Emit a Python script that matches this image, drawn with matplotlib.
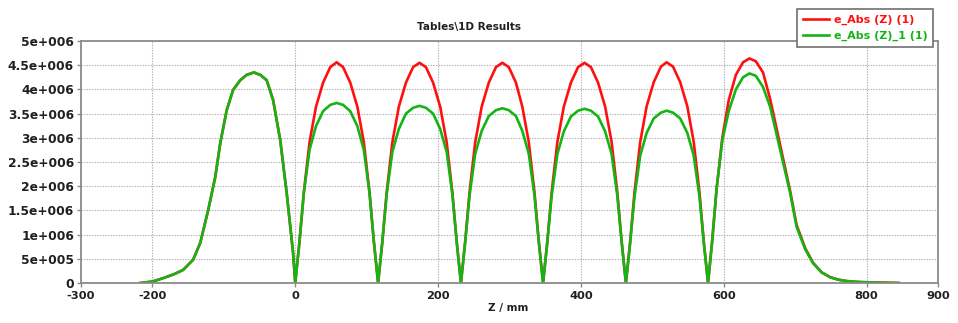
import matplotlib
matplotlib.use("Agg")
import matplotlib.pyplot as plt

# ---------------- data ----------------
z_left = [-217, -200, -185, -170, -157, -143, -133, -122, -112, -105, -96, -87,
          -77, -68, -58, -49, -40, -31, -21, -12, -3]
left_vals = [0.0, 0.03, 0.10, 0.18, 0.27, 0.48, 0.83, 1.50, 2.19, 2.89, 3.57, 3.99,
             4.19, 4.30, 4.35, 4.30, 4.19, 3.78, 2.95, 1.86, 0.62]

z_mid = [0, 6, 12, 20, 29, 39, 49, 58, 67, 77, 87, 96, 104, 110,
         116, 122, 128, 136, 145, 155, 165, 174, 183, 193, 203, 212, 220, 226,
         232, 238, 244, 252, 261, 271, 281, 290, 299, 309, 318, 327, 335, 341,
         347, 353, 359, 367, 376, 386, 396, 405, 414, 424, 434, 443, 451, 457,
         463, 469, 475, 483, 492, 502, 512, 520, 529, 539, 549, 558, 566, 572]

red_mid = [0, 0.86, 1.87, 2.91, 3.64, 4.14, 4.46, 4.56, 4.46, 4.14, 3.64, 2.91, 1.87, 0.86,
           0, 0.86, 1.87, 2.91, 3.64, 4.14, 4.46, 4.55, 4.46, 4.14, 3.64, 2.91, 1.87, 0.86,
           0, 0.86, 1.87, 2.91, 3.64, 4.14, 4.46, 4.55, 4.46, 4.14, 3.64, 2.91, 1.87, 0.86,
           0, 0.86, 1.87, 2.91, 3.64, 4.14, 4.46, 4.55, 4.46, 4.14, 3.64, 2.91, 1.87, 0.86,
           0, 0.86, 1.87, 2.91, 3.65, 4.15, 4.47, 4.56, 4.47, 4.15, 3.65, 2.91, 1.87, 0.86]

green_mid = [0, 0.87, 1.86, 2.75, 3.24, 3.55, 3.68, 3.72, 3.68, 3.55, 3.24, 2.75, 1.86, 0.87,
             0, 0.86, 1.83, 2.71, 3.18, 3.50, 3.62, 3.66, 3.62, 3.50, 3.18, 2.71, 1.83, 0.86,
             0, 0.85, 1.80, 2.67, 3.14, 3.45, 3.57, 3.61, 3.57, 3.45, 3.14, 2.67, 1.80, 0.85,
             0, 0.85, 1.80, 2.66, 3.13, 3.44, 3.56, 3.60, 3.56, 3.44, 3.13, 2.66, 1.80, 0.85,
             0, 0.84, 1.78, 2.63, 3.10, 3.40, 3.52, 3.56, 3.52, 3.40, 3.10, 2.63, 1.78, 0.84]

z_right = [578, 584, 590, 598, 607, 617, 627, 636, 645, 655, 665, 679, 693, 702,
           714, 725, 737, 749, 760, 772, 790, 810, 830, 845]
red_right = [0, 0.90, 1.95, 3.00, 3.78, 4.30, 4.56, 4.64, 4.58, 4.35, 3.80, 2.85, 1.90, 1.20,
             0.72, 0.42, 0.22, 0.12, 0.07, 0.04, 0.02, 0.01, 0.005, 0.0]
green_right = [0, 0.90, 1.95, 2.95, 3.55, 4.00, 4.25, 4.33, 4.28, 4.05, 3.64, 2.75, 1.86, 1.16,
               0.70, 0.41, 0.22, 0.12, 0.07, 0.04, 0.02, 0.01, 0.005, 0.0]

scale = 1e6
series_labels = ["e_Abs (Z) (1)", "e_Abs (Z)_1 (1)"]
x_ticks = [-300, -200, 0, 200, 400, 600, 800, 900]
x_grid = [-200, 0, 200, 400, 600, 800]
y_ticks = [0, 5e5, 1e6, 1.5e6, 2e6, 2.5e6, 3e6, 3.5e6, 4e6, 4.5e6, 5e6]
y_tick_labels = ["0", "5e+005", "1e+006", "1.5e+006", "2e+006", "2.5e+006",
                 "3e+006", "3.5e+006", "4e+006", "4.5e+006", "5e+006"]
title = "Tables\\1D Results"
xlabel = "Z / mm"

# ---------------- assemble series ----------------
z_all = z_left + z_mid + z_right
red_all = [v * scale for v in left_vals + red_mid + red_right]
green_all = [v * scale for v in left_vals + green_mid + green_right]

RED = "#ff1010"
GREEN = "#14b414"
GRAY = "#8a8a8a"
TXT = "#202020"

plt.rcParams['font.family'] = ['DejaVu Sans']

fig = plt.figure(figsize=(9.58, 3.23), dpi=100)
ax = fig.add_axes([81 / 958, 40 / 323, (938 - 81) / 958, (283 - 41) / 323])

l1, = ax.plot(z_all, red_all, color=RED, lw=1.9, solid_joinstyle='round')
l2, = ax.plot(z_all, green_all, color=GREEN, lw=1.9, solid_joinstyle='round')

ax.set_xlim(-300, 900)
ax.set_ylim(0, 5e6)
ax.set_xticks(x_ticks)
ax.set_xticklabels([str(t) for t in x_ticks])
ax.set_yticks(y_ticks)
ax.set_yticklabels(y_tick_labels)

for x in x_grid:
    ax.axvline(x, color="#b0b0b0", lw=0.8, ls=(0, (1.2, 1.2)), zorder=0)
for y in y_ticks[1:-1]:
    ax.axhline(y, color="#b0b0b0", lw=0.8, ls=(0, (1.2, 1.2)), zorder=0)

for s in ax.spines.values():
    s.set_color(GRAY)
    s.set_linewidth(1.3)

ax.tick_params(axis='both', which='both', direction='out', length=3, width=1,
               color=GRAY, labelcolor=TXT, pad=2)
ax.tick_params(axis='x', labelsize=8.2, pad=3)
ax.tick_params(axis='y', labelsize=8.8)
for lab in ax.get_xticklabels() + ax.get_yticklabels():
    lab.set_fontweight('bold')

fig.text(469 / 958, 1 - 27 / 323, title, ha='center', va='center',
         fontsize=7.5, fontweight='bold', color=TXT)
fig.text(508 / 958, 1 - 308 / 323, xlabel, ha='center', va='center',
         fontsize=7.5, fontweight='bold', color=TXT)

leg = fig.legend([l1, l2], series_labels, loc='upper right',
                 bbox_to_anchor=(933 / 958, 1 - 9 / 323),
                 frameon=True, fancybox=False, framealpha=1, edgecolor="#707070",
                 prop={'size': 8, 'weight': 'bold'}, handlelength=2.4,
                 handletextpad=0.4, borderpad=0.5, labelspacing=0.55,
                 borderaxespad=0)
leg.get_frame().set_linewidth(1.2)
for txt, col in zip(leg.get_texts(), [RED, GREEN]):
    txt.set_color(col)

fig.savefig("out.png", dpi=100)
